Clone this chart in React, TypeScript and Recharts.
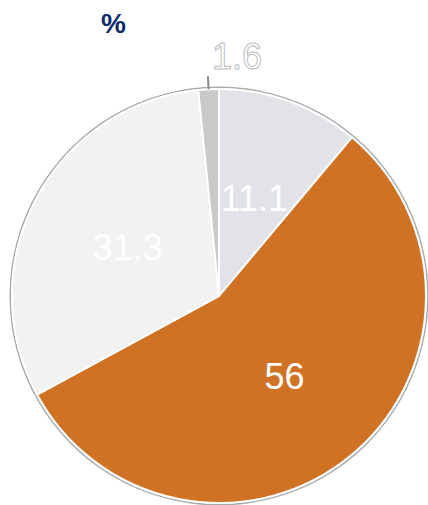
import * as React from "react"
import { PieChart, Pie, Cell } from "recharts"

const labels = ["A", "B", "C", "D"]
const values = [11.1, 56, 31.3, 1.6]
const colors = ["#e2e3e8", "#d07223", "#f2f2f3", "#c9c9c9"]

const data = labels.map((name, i) => ({ name, value: values[i] }))

const RADIAN = Math.PI / 180

function renderLabel(props: any) {
  const { cx, cy, midAngle, outerRadius, value, index } = props
  const cos = Math.cos(-midAngle * RADIAN)
  const sin = Math.sin(-midAngle * RADIAN)
  if (value < 5) {
    const x1 = cx + outerRadius * cos
    const y1 = cy + outerRadius * sin
    const x2 = cx + (outerRadius + 13) * cos
    const y2 = cy + (outerRadius + 13) * sin
    return (
      <g key={"l" + index}>
        <line x1={x1} y1={y1} x2={x2} y2={y2} stroke="#8a8a8a" strokeWidth={2} />
        <text
          x={x2 + 4}
          y={y2 - 7}
          textAnchor="start"
          fill="#ffffff"
          stroke="#bdbdbd"
          strokeWidth={1}
          fontSize={36}
          fontFamily="'Liberation Sans', Arial, sans-serif"
        >
          {value}
        </text>
      </g>
    )
  }
  const r = outerRadius * 0.5
  const x = cx + r * cos
  const y = cy + r * sin
  return (
    <text
      key={"l" + index}
      x={x}
      y={y}
      textAnchor="middle"
      dominantBaseline="central"
      fill="#ffffff"
      fontSize={36}
      fontFamily="'Liberation Sans', Arial, sans-serif"
    >
      {value}
    </text>
  )
}

export default function App() {
  return (
    <div style={{ width: 428, height: 505, background: "#fff" }}>
      <style>{`body{margin:0}`}</style>
      <PieChart width={428} height={505} margin={{ top: 0, right: 0, bottom: 0, left: 0 }}>
        <text
          x={101}
          y={33}
          fill="#0d2a6b"
          fontSize={28}
          fontWeight="bold"
          fontFamily="'Liberation Sans', Arial, sans-serif"
        >
          %
        </text>
        <Pie
          data={[{ name: "ring", value: 1 }]}
          dataKey="value"
          cx={219}
          cy={296}
          innerRadius={208}
          outerRadius={209.5}
          fill="#a8a8a8"
          stroke="none"
          isAnimationActive={false}
        />
        <Pie
          data={data}
          dataKey="value"
          cx={219}
          cy={296}
          outerRadius={207}
          startAngle={90}
          endAngle={-270}
          stroke="#ffffff"
          strokeWidth={2}
          labelLine={false}
          label={renderLabel}
          isAnimationActive={false}
        >
          {data.map((d, i) => (
            <Cell key={d.name} fill={colors[i]} />
          ))}
        </Pie>
      </PieChart>
    </div>
  )
}
